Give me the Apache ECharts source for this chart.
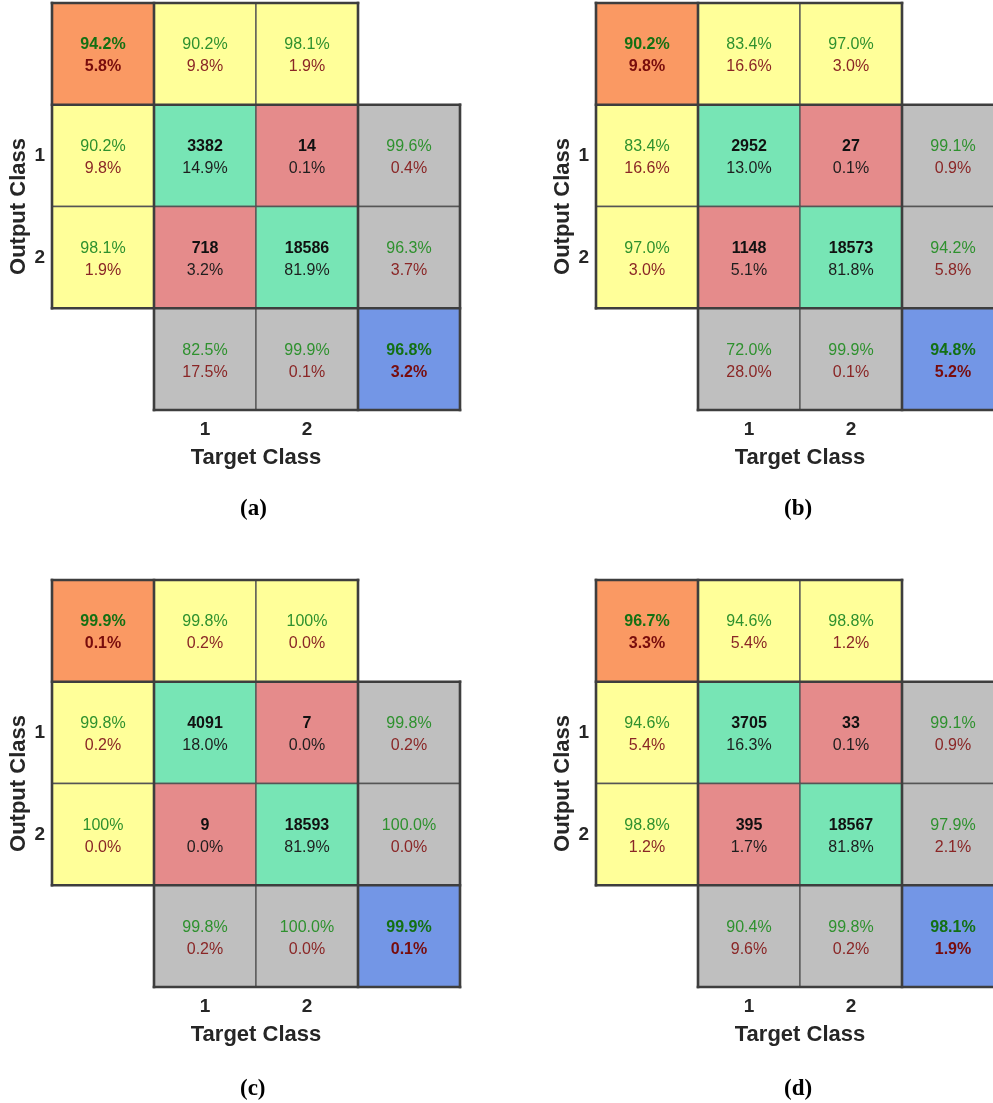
<!DOCTYPE html>
<html>
<head>
<meta charset="utf-8">
<title>Confusion matrices</title>
<script src="https://cdn.jsdelivr.net/npm/echarts@6/dist/echarts.min.js"></script>
<style>
  html, body { margin: 0; padding: 0; background: #fff; overflow: hidden; }
  /* canvas is a little wider than the window: the right-hand panels run past its edge */
  #chart { width: 1012px; height: 1103px; }
</style>
</head>
<body>
<div id="chart"></div>
<script>
// ---- data: one entry per panel (a)-(d) ----
const panelCaptions = ['(a)', '(b)', '(c)', '(d)'];
const classLabels = ['1', '2'];

// counts[panel][outputClass][targetClass]
const counts = [
  [[3382, 14], [718, 18586]],
  [[2952, 27], [1148, 18573]],
  [[4091, 7], [9, 18593]],
  [[3705, 33], [395, 18567]]
];
// share of all samples (%) for each count cell
const shares = [
  [[14.9, 0.1], [3.2, 81.9]],
  [[13.0, 0.1], [5.1, 81.8]],
  [[18.0, 0.0], [0.0, 81.9]],
  [[16.3, 0.1], [1.7, 81.8]]
];
// precision per output class (right column) and its complement
const rowCorrect = [[99.6, 96.3], [99.1, 94.2], [99.8, 100.0], [99.1, 97.9]];
const rowWrong   = [[0.4, 3.7],   [0.9, 5.8],   [0.2, 0.0],    [0.9, 2.1]];
// recall per target class (bottom row) and its complement
const colCorrect = [[82.5, 99.9], [72.0, 99.9], [99.8, 100.0], [90.4, 99.8]];
const colWrong   = [[17.5, 0.1],  [28.0, 0.1],  [0.2, 0.0],    [9.6, 0.2]];
// overall accuracy (blue corner)
const overallCorrect = [96.8, 94.8, 99.9, 98.1];
const overallWrong   = [3.2, 5.2, 0.1, 1.9];
// per-class summary shown along the top row and the left column (yellow)
const edgeCorrect = [[90.2, 98.1], [83.4, 97.0], [99.8, 100], [94.6, 98.8]];
const edgeWrong   = [[9.8, 1.9],   [16.6, 3.0],  [0.2, 0.0],  [5.4, 1.2]];
// combined score in the top-left corner (orange)
const cornerCorrect = [94.2, 90.2, 99.9, 96.7];
const cornerWrong   = [5.8, 9.8, 0.1, 3.3];

// ---- layout & style ----
const GRID_W = 408, GRID_H = 407;
const panelLeft = [52, 596, 52, 596];
const panelTop  = [3, 3, 580, 580];

const FILL = {
  corner: '#FA9963', edge: '#FFFF99', hit: '#77E5B5', miss: '#E58B8B',
  summary: '#BFBFBF', overall: '#7396E6'
};
const GREEN = '#2E912E', GREEN_DARK = '#137013';
const RED = '#8A2626', RED_DARK = '#780C0C';
const SANS = '"Liberation Sans", Arial, Helvetica, sans-serif';

const pct = v => v.toFixed(1) + '%';
const pctEdge = v => (v >= 100 ? '100' : v.toFixed(1)) + '%';

// Build the list of cells for one panel: [col, row] on a 4x4 layout.
function buildCells(p) {
  const cells = [];
  const two = (a, b, bold) => ({ l1: a, l2: b, c1: bold ? GREEN_DARK : GREEN, c2: bold ? RED_DARK : RED, bold1: bold, bold2: bold });
  cells.push(Object.assign({ col: 0, row: 0, fill: FILL.corner }, two(pct(cornerCorrect[p]), pct(cornerWrong[p]), true)));
  for (let k = 0; k < 2; k++) {
    cells.push(Object.assign({ col: k + 1, row: 0, fill: FILL.edge }, two(pctEdge(edgeCorrect[p][k]), pct(edgeWrong[p][k]), false)));
    cells.push(Object.assign({ col: 0, row: k + 1, fill: FILL.edge }, two(pctEdge(edgeCorrect[p][k]), pct(edgeWrong[p][k]), false)));
  }
  for (let r = 0; r < 2; r++) {
    for (let c = 0; c < 2; c++) {
      cells.push({
        col: c + 1, row: r + 1, fill: r === c ? FILL.hit : FILL.miss,
        l1: String(counts[p][r][c]), l2: pct(shares[p][r][c]),
        c1: '#111111', c2: '#1E1E1E', bold1: true, bold2: false
      });
    }
    cells.push(Object.assign({ col: 3, row: r + 1, fill: FILL.summary }, two(pct(rowCorrect[p][r]), pct(rowWrong[p][r]), false)));
  }
  for (let c = 0; c < 2; c++) {
    cells.push(Object.assign({ col: c + 1, row: 3, fill: FILL.summary }, two(pct(colCorrect[p][c]), pct(colWrong[p][c]), false)));
  }
  cells.push(Object.assign({ col: 3, row: 3, fill: FILL.overall }, two(pct(overallCorrect[p]), pct(overallWrong[p]), true)));
  return cells;
}

// Heavy outline segments in cell-boundary units [x0, y0, x1, y1]
const heavyEdges = [
  [0, 0, 3, 0], [0, 1, 4, 1], [0, 3, 4, 3], [1, 4, 4, 4],
  [0, 0, 0, 3], [1, 0, 1, 4], [3, 0, 3, 4], [4, 1, 4, 4]
];

const grid = [], xAxis = [], yAxis = [], series = [], graphic = [];
const catAxis = ['', classLabels[0], classLabels[1], ''];

for (let p = 0; p < 4; p++) {
  grid.push({ left: panelLeft[p], top: panelTop[p], width: GRID_W, height: GRID_H });
  xAxis.push({
    type: 'category', gridIndex: p, data: catAxis,
    axisLine: { show: false }, axisTick: { show: false }, splitLine: { show: false },
    axisLabel: { margin: 10, fontFamily: SANS, fontWeight: 'bold', fontSize: 19, color: '#262626' },
    name: 'Target Class', nameLocation: 'middle', nameGap: 37,
    nameTextStyle: { fontFamily: SANS, fontWeight: 'bold', fontSize: 22, color: '#262626' }
  });
  yAxis.push({
    type: 'category', gridIndex: p, data: catAxis, inverse: true,
    axisLine: { show: false }, axisTick: { show: false }, splitLine: { show: false },
    axisLabel: { margin: 7, fontFamily: SANS, fontWeight: 'bold', fontSize: 19, color: '#262626' },
    name: 'Output Class', nameLocation: 'middle', nameGap: 22,
    nameTextStyle: { fontFamily: SANS, fontWeight: 'bold', fontSize: 22, color: '#262626' }
  });

  const cells = buildCells(p);
  series.push({
    type: 'custom', xAxisIndex: p, yAxisIndex: p,
    data: cells.map(c => [c.col, c.row]),
    renderItem: function (params, api) {
      const cell = cells[params.dataIndex];
      const ctr = api.coord([api.value(0), api.value(1)]);
      const sz = api.size([1, 1]);
      return {
        type: 'group',
        children: [
          {
            type: 'rect',
            shape: { x: ctr[0] - sz[0] / 2, y: ctr[1] - sz[1] / 2, width: sz[0], height: sz[1] },
            style: { fill: cell.fill, stroke: '#555555', lineWidth: 1.3 }
          },
          {
            type: 'text',
            style: {
              text: cell.l1, x: ctr[0], y: ctr[1] - 9, align: 'center', verticalAlign: 'middle',
              fill: cell.c1, fontFamily: SANS, fontSize: 16, fontWeight: cell.bold1 ? 'bold' : 'normal'
            }
          },
          {
            type: 'text',
            style: {
              text: cell.l2, x: ctr[0], y: ctr[1] + 13, align: 'center', verticalAlign: 'middle',
              fill: cell.c2, fontFamily: SANS, fontSize: 16, fontWeight: cell.bold2 ? 'bold' : 'normal'
            }
          }
        ]
      };
    }
  });

  // Heavy frame around the matrix and summary blocks
  series.push({
    type: 'custom', xAxisIndex: p, yAxisIndex: p, z: 5,
    data: [[0, 0]],
    renderItem: function (params, api) {
      const c0 = api.coord([0, 0]);
      const sz = api.size([1, 1]);
      const X = k => c0[0] - sz[0] / 2 + k * sz[0];
      const Y = k => c0[1] - sz[1] / 2 + k * sz[1];
      return {
        type: 'group',
        children: heavyEdges.map(e => ({
          type: 'line',
          shape: { x1: X(e[0]), y1: Y(e[1]), x2: X(e[2]), y2: Y(e[3]) },
          style: { stroke: '#3E3E3E', lineWidth: 2.6, lineCap: 'square' }
        }))
      };
    }
  });

  graphic.push({
    type: 'text',
    left: panelLeft[p] + GRID_W / 2 - 16,
    top: panelTop[p] + GRID_H + (p < 2 ? 88 : 91),
    style: {
      text: panelCaptions[p], fill: '#000',
      font: 'bold 23px "Liberation Serif", "Times New Roman", serif'
    }
  });
}

const chart = echarts.init(document.getElementById('chart'), null, { renderer: 'canvas' });
chart.setOption({
  animation: false,
  backgroundColor: '#ffffff',
  grid, xAxis, yAxis, series, graphic
});
</script>
</body>
</html>
